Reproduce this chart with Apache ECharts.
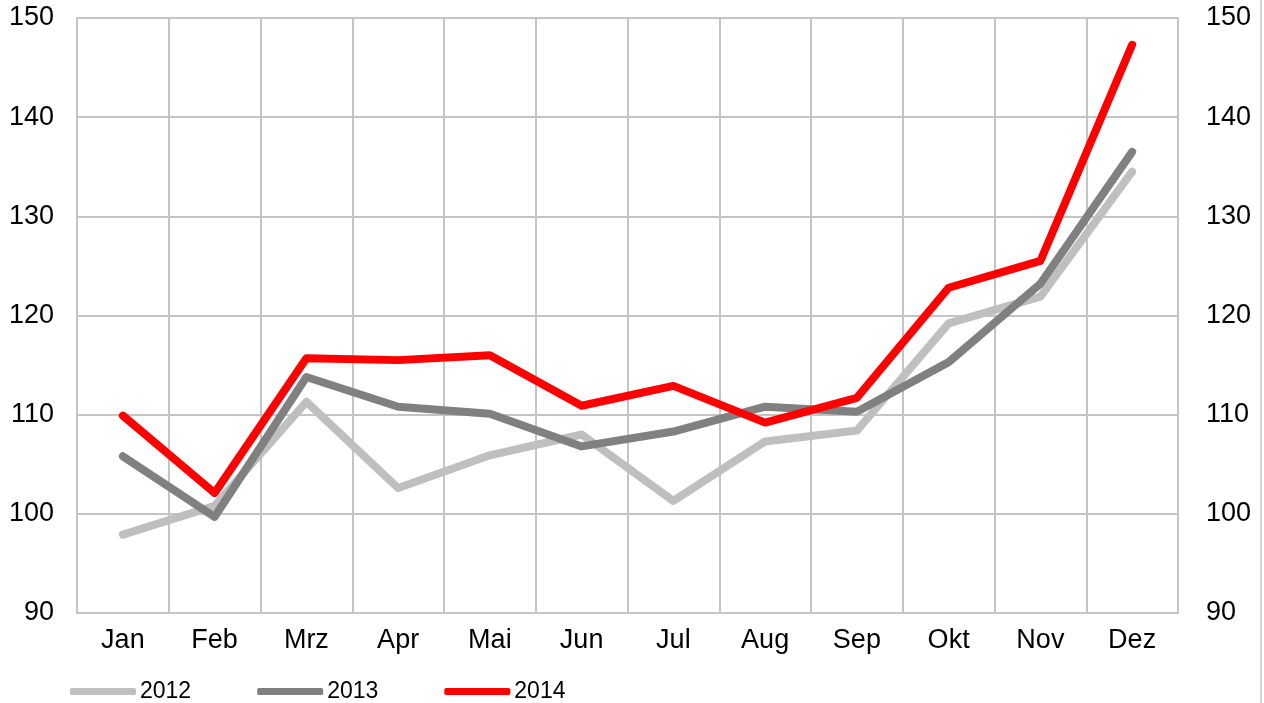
<!DOCTYPE html>
<html>
<head>
<meta charset="utf-8">
<script src="https://cdn.jsdelivr.net/npm/echarts@6/dist/echarts.min.js"></script>
<style>
html,body{margin:0;padding:0;background:#fff;}
#chart{width:1264px;height:703px;}
</style>
</head>
<body>
<div id="chart"></div>
<script>
const categories = ['Jan','Feb','Mrz','Apr','Mai','Jun','Jul','Aug','Sep','Okt','Nov','Dez'];
const seriesNames = ['2012','2013','2014'];
const values2012 = [97.9, 100.8, 111.3, 102.6, 105.9, 108.0, 101.3, 107.3, 108.4, 119.2, 121.9, 134.5];
const values2013 = [105.8, 99.7, 113.8, 110.8, 110.1, 106.8, 108.3, 110.8, 110.3, 115.3, 123.2, 136.5];
const values2014 = [109.9, 102.1, 115.7, 115.5, 116.0, 110.9, 112.9, 109.2, 111.7, 122.8, 125.5, 147.3];
const yTicks = [90, 100, 110, 120, 130, 140, 150];

const colors = ['#bfbfbf', '#808080', '#ff0000'];
const font = '"Liberation Sans", Arial, sans-serif';
const gridColor = '#c4c4c4';

const chart = echarts.init(document.getElementById('chart'), null, {renderer: 'canvas'});

function yAxis(pos, margin) {
  return {
    type: 'value',
    position: pos,
    min: yTicks[0],
    max: yTicks[yTicks.length - 1],
    interval: yTicks[1] - yTicks[0],
    axisLine: {show: true, lineStyle: {color: gridColor, width: 2}},
    axisTick: {show: false},
    splitLine: {show: true, lineStyle: {color: gridColor, width: 2}},
    axisLabel: {color: '#000', fontSize: 27, fontFamily: font, margin: margin, padding: [6, 0, 0, 0]}
  };
}

const data = [values2012, values2013, values2014];

chart.setOption({
  backgroundColor: '#fff',
  animation: false,
  grid: {left: 77, right: 86, top: 18, bottom: 90, containLabel: false},
  xAxis: {
    type: 'category',
    data: categories,
    boundaryGap: true,
    axisLine: {show: true, lineStyle: {color: gridColor, width: 2}},
    axisTick: {show: false},
    splitLine: {show: true, interval: 0, lineStyle: {color: gridColor, width: 2}},
    axisLabel: {color: '#000', fontSize: 27, fontFamily: font, margin: 14, interval: 0}
  },
  yAxis: [yAxis('left', 23), yAxis('right', 28)],
  legend: {
    left: 65,
    top: 675,
    itemWidth: 66,
    itemHeight: 7,
    itemGap: 66,
    icon: 'roundRect',
    textStyle: {color: '#000', fontSize: 23, fontFamily: font, padding: [0, 0, 0, -1]},
    data: seriesNames
  },
  graphic: [{
    type: 'line',
    shape: {x1: 1261, y1: 0, x2: 1261, y2: 703},
    style: {stroke: '#d4d4d4', lineWidth: 2},
    silent: true
  }],
  series: seriesNames.map((name, i) => ({
    name: name,
    type: 'line',
    data: data[i],
    showSymbol: false,
    symbol: 'none',
    smooth: false,
    color: colors[i],
    lineStyle: {color: colors[i], width: 8, cap: 'round', join: 'round'},
    itemStyle: {color: colors[i]},
    z: 2 + i
  }))
});
</script>
</body>
</html>
